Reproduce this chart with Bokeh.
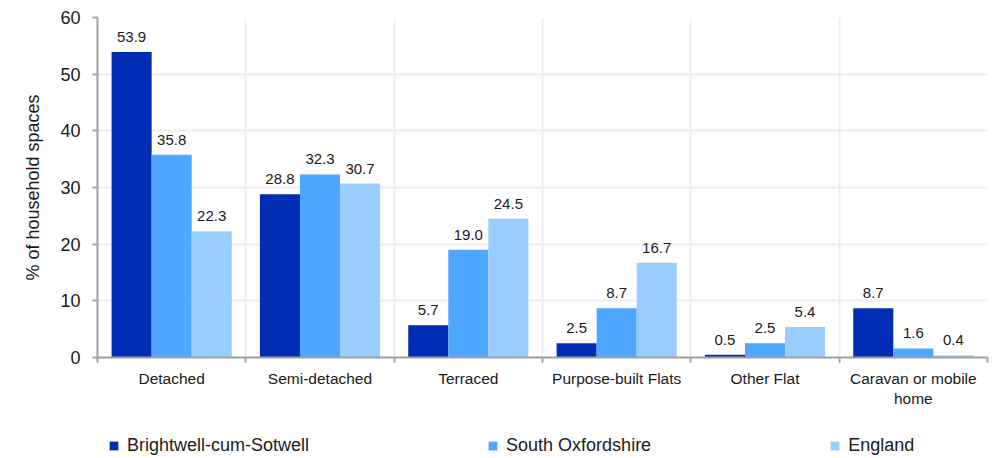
import numpy as np
from bokeh.plotting import figure
from bokeh.layouts import column
from bokeh.models import ColumnDataSource, Range1d, FixedTicker, LabelSet, Legend, LegendItem
from bokeh.core.properties import value
from bokeh.embed import file_html
from bokeh.resources import INLINE

categories = ["Detached", "Semi-detached", "Terraced", "Purpose-built Flats",
              "Other Flat", "Caravan or mobile\nhome"]
series_names = ["Brightwell-cum-Sotwell", "South Oxfordshire", "England"]
brightwell = [53.9, 28.8, 5.7, 2.5, 0.5, 8.7]
south_oxon = [35.8, 32.3, 19.0, 8.7, 2.5, 1.6]
england = [22.3, 30.7, 24.5, 16.7, 5.4, 0.4]
y_ticks = [0, 10, 20, 30, 40, 50, 60]

colors = ["#002DB3", "#4DA6FF", "#99CCFF"]
FONT = "Liberation Sans"
W = 990

p = figure(width=W, height=421, output_backend="svg", toolbar_location=None,
           x_range=Range1d(0, len(categories)), y_range=Range1d(0, 60),
           min_border_left=97, min_border_right=3, min_border_top=17, min_border_bottom=64)
p.outline_line_color = None

centers = np.arange(len(categories)) + 0.5
bw = 0.27
offsets = [-bw, 0.0, bw]
sources = []
for vals, col, off in zip([brightwell, south_oxon, england], colors, offsets):
    src = ColumnDataSource(dict(x=centers + off, top=vals, lbl=["%.1f" % v for v in vals]))
    sources.append(src)
    p.vbar(x="x", top="top", width=bw, source=src, fill_color=col, line_color=None)
    p.add_layout(LabelSet(x="x", y="top", text="lbl", source=src, y_offset=10,
                          text_align="center", text_baseline="bottom",
                          text_font=value(FONT), text_font_size=value("15px"),
                          text_color=value("#1a1a1a")))

# x axis: labels at category centres, tick marks at category boundaries
xax = p.xaxis[0]
xax.ticker = FixedTicker(ticks=list(centers), minor_ticks=list(range(len(categories) + 1)))
xax.major_label_overrides = {float(c): lab for c, lab in zip(centers, categories)}
xax.major_tick_out = 0
xax.major_tick_in = 0
xax.minor_tick_out = 5
xax.minor_tick_in = 0
xax.minor_tick_line_color = "#A0A0A0"
xax.minor_tick_line_width = 2
xax.axis_line_color = "#A0A0A0"
xax.axis_line_width = 2
xax.major_label_standoff = 7
xax.major_label_text_font = FONT
xax.major_label_text_font_size = "15.5px"
xax.major_label_text_color = "#1a1a1a"

p.xgrid.grid_line_color = None
p.xgrid.minor_grid_line_color = "#EEEEEE"
p.xgrid.minor_grid_line_width = 2

yax = p.yaxis[0]
yax.ticker = FixedTicker(ticks=y_ticks)
yax.axis_label = "% of household spaces"
yax.axis_label_text_font = FONT
yax.axis_label_text_font_style = "normal"
yax.axis_label_text_font_size = "18px"
yax.axis_label_text_color = "#1a1a1a"
yax.axis_label_standoff = 14
yax.major_label_text_font = FONT
yax.major_label_text_font_size = "18px"
yax.major_label_text_color = "#1a1a1a"
yax.major_label_standoff = 12
yax.major_tick_out = 5
yax.major_tick_in = 0
yax.minor_tick_out = 0
yax.minor_tick_in = 0
yax.major_tick_line_color = "#A0A0A0"
yax.major_tick_line_width = 2
yax.axis_line_color = "#A0A0A0"
yax.axis_line_width = 2
p.ygrid.grid_line_color = "#EEEEEE"
p.ygrid.grid_line_width = 2

# legend strip: same series drawn off-view so only the legend shows
leg = figure(width=W, height=35, output_backend="svg", toolbar_location=None,
             x_range=Range1d(0, len(categories)), y_range=Range1d(1000, 1001),
             x_axis_type=None, y_axis_type=None,
             min_border_left=0, min_border_right=0, min_border_top=0, min_border_bottom=0)
leg.outline_line_color = None
leg.xgrid.visible = False
leg.ygrid.visible = False
leg_renderers = []
for src, col in zip(sources, colors):
    leg_renderers.append(leg.vbar(x="x", top="top", width=bw, source=src,
                                  fill_color=col, line_color=None))

legend = Legend(items=[LegendItem(label=n, renderers=[r]) for n, r in zip(series_names, leg_renderers)],
                orientation="horizontal", location=(11, 0),
                glyph_width=11, glyph_height=11, label_standoff=8, spacing=178,
                padding=0, margin=0, border_line_color=None, background_fill_alpha=0,
                label_text_font=FONT, label_text_font_size="18px", label_text_color="#1a1a1a")
leg.add_layout(legend, "center")

layout = column(p, leg, spacing=0)
open("out.html", "w").write(file_html(layout, INLINE))
